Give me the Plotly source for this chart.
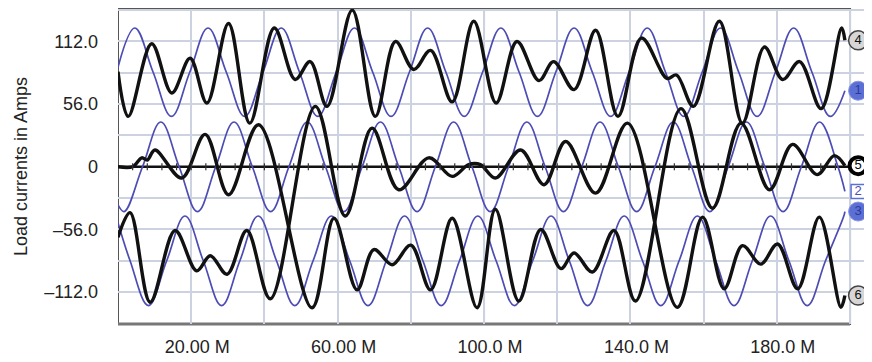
import plotly.graph_objects as go

# ---------------- data ----------------
# time in M (ms), currents in Amps
x_ticks = [20, 60, 100, 140, 180]
x_tick_text = ["20.00 M", "60.00 M", "100.0 M", "140.0 M", "180.0 M"]
y_ticks = [-112, -56, 0, 56, 112]
y_tick_text = ["\u2013112.0", "\u201356.0", "0", "56.0", "112.0"]

# blue supply currents (1, 2, 3): peaks, mid crossings, troughs
blue1_t = [0, 4.6, 9.6, 14.6, 19.6, 24.6, 29.6, 34.6, 39.6, 44.6, 49.6, 54.6, 59.6, 64.6,
           69.6, 74.6, 79.6, 84.6, 89.6, 94.6, 99.6, 104.6, 109.6, 114.6, 119.6, 124.6,
           129.6, 134.6, 139.6, 144.6, 149.6, 154.6, 159.6, 164.6, 169.6, 174.6, 179.6,
           184.6, 189.6, 194.6, 198.6]
blue1_v = [89, 124, 84.5, 45, 84.5, 124, 84.5, 45, 84.5, 124, 84.5, 45, 84.5, 124,
           84.5, 45, 84.5, 124, 84.5, 45, 84.5, 124, 84.5, 45, 84.5, 124,
           84.5, 45, 84.5, 124, 84.5, 45, 84.5, 124, 84.5, 45, 84.5,
           124, 84.5, 45, 68]

blue2_t = [0, 1.7, 6.7, 11.7, 16.7, 21.7, 26.7, 31.7, 36.7, 41.7, 46.7, 51.7, 56.7, 61.7,
           66.7, 71.7, 76.7, 81.7, 86.7, 91.7, 96.7, 101.7, 106.7, 111.7, 116.7, 121.7,
           126.7, 131.7, 136.7, 141.7, 146.7, 151.7, 156.7, 161.7, 166.7, 171.7, 176.7,
           181.7, 186.7, 191.7, 196.7, 198.6]
blue2_v = [-34, -40, 0, 40, 0, -40, 0, 40, 0, -40, 0, 40, 0, -40,
           0, 40, 0, -40, 0, 40, 0, -40, 0, 40, 0, -40,
           0, 40, 0, -40, 0, 40, 0, -40, 0, 40, 0,
           -40, 0, 40, 0, -22]

blue3_t = [0, 3.3, 8.3, 13.3, 18.3, 23.3, 28.3, 33.3, 38.3, 43.3, 48.3, 53.3, 58.3, 63.3,
           68.3, 73.3, 78.3, 83.3, 88.3, 93.3, 98.3, 103.3, 108.3, 113.3, 118.3, 123.3,
           128.3, 133.3, 138.3, 143.3, 148.3, 153.3, 158.3, 163.3, 168.3, 173.3, 178.3,
           183.3, 188.3, 193.3, 198.3, 198.6]
blue3_v = [-50, -84, -124, -84, -44, -84, -124, -84, -44, -84, -124, -84, -44, -84,
           -124, -84, -44, -84, -124, -84, -44, -84, -124, -84, -44, -84,
           -124, -84, -44, -84, -124, -84, -44, -84, -124, -84, -44,
           -84, -124, -84, -44, -40]

# black load currents (4, 5, 6): turning points
black4_t = [0, 2.8, 9.2, 14.7, 19.7, 24.3, 30.2, 36.0, 42.7, 48.4, 52.5, 57.1, 64.0, 70.3,
            75.8, 80.8, 85.4, 91.3, 97.2, 103.3, 109.0, 115.0, 119.0, 124.6, 130.5, 136.6,
            143.0, 150.0, 152.6, 157.2, 164.3, 170.6, 176.6, 181.6, 186.2, 192.1, 197.7, 198.6]
black4_v = [85, 45, 110, 66, 97, 57, 128, 39, 124, 78, 94, 54, 140, 45,
            112, 87, 104, 58, 130, 57, 112, 77, 94, 69, 122, 45,
            115, 79, 82, 54, 130, 39, 107, 78, 94, 52, 124, 113]

black5_t = [0, 4.0, 6.5, 8.0, 10.1, 17.4, 23.8, 30.2, 38.4, 53.0, 59.0, 65.3, 69.9, 74.9,
            80.0, 85.4, 91.3, 98.1, 103.1, 109.5, 115.5, 121.0, 124.6, 129.6, 135.5, 141.4,
            153.8, 162.4, 170.2, 178.0, 184.3, 191.0, 195.7, 198.6]
black5_v = [0, 0, 8, 6, 15, -10, 29, -25, 37.5, -126, -46, -110, -74, -87.5,
            -70, -110, -46, -126, -38, -120, -56, -91, -77, -94, -57, -120,
            52, -37, 39, -20.5, 20, -7, 10, 1]

black6_t = [0, 3.3, 8.8, 15.6, 21.5, 25.2, 29.8, 35.2, 41.6, 53.9, 62.1, 69.4, 76.7, 84.9,
            91.3, 95.8, 99.0, 103.1, 110.0, 116.4, 122.3, 130.5, 139.2, 152.8, 159.7, 165.6,
            170.6, 175.6, 180.2, 185.7, 191.6, 197.5, 198.6]
black6_v = [-63, -41, -121, -57, -93, -79.5, -96, -57, -118, 54, -44, 34.5, -20.5, 8,
            -8.6, 2, 2, -10, 15, -16, 22.6, -23.5, 39, -125.6, -45, -109,
            -70.5, -87, -69, -109, -45, -125.6, -115]

marker_labels = ["4", "1", "5", "2", "3", "6"]

# ---------------- style ----------------
X_MIN, X_MAX = 0, 200          # data window (framed)
X_VIEW = 206                   # axis extends to the figure edge for the channel markers
Y_MIN, Y_MAX = -140.5, 141
CENTER_T = 100
ZERO_TICK_STEP = 4
MARK_OFFSET = 2.2
BLUE = "#4c4cb4"
BLACK = "#111111"
GRID = "#cdd2e0"
FONT = "Liberation Sans, Arial, Helvetica, sans-serif"
PAGE_INSET = 8                 # default page body margin of the html page

fig = go.Figure()

for t, v in [(blue1_t, blue1_v), (blue2_t, blue2_v), (blue3_t, blue3_v)]:
    fig.add_trace(go.Scatter(x=t, y=v, mode="lines",
                             line=dict(color=BLUE, width=1.7, shape="spline", smoothing=1.1),
                             hoverinfo="skip", showlegend=False))

for t, v in [(black4_t, black4_v), (black5_t, black5_v), (black6_t, black6_v)]:
    fig.add_trace(go.Scatter(x=t, y=v, mode="lines",
                             line=dict(color=BLACK, width=3.4, shape="spline", smoothing=1.0),
                             hoverinfo="skip", showlegend=False))

# small tick marks on the zero line
zt = list(range(X_MIN + ZERO_TICK_STEP, X_MAX, ZERO_TICK_STEP))
fig.add_trace(go.Scatter(x=zt, y=[0] * len(zt), mode="markers",
                         marker=dict(symbol="line-ns", size=5, line=dict(color="#333", width=1.2)),
                         hoverinfo="skip", showlegend=False))

# end-of-trace channel markers
ends = {
    "4": black4_v[-1], "1": blue1_v[-1], "5": black5_v[-1],
    "2": blue2_v[-1], "3": blue3_v[-1], "6": black6_v[-1],
}
mx = X_MAX + MARK_OFFSET
styles = {
    "4": dict(fill="#d6d6d6", edge="#444444", ew=1.5, txt="#111111", size=19, sym="circle"),
    "6": dict(fill="#d6d6d6", edge="#444444", ew=1.5, txt="#111111", size=19, sym="circle"),
    "1": dict(fill="#5c6fd4", edge="#8a98e4", ew=1, txt="#2a3a9a", size=19, sym="circle"),
    "3": dict(fill="#5c6fd4", edge="#8a98e4", ew=1, txt="#2a3a9a", size=19, sym="circle"),
    "5": dict(fill="#ffffff", edge="#000000", ew=4, txt="#000000", size=17, sym="circle"),
    "2": dict(fill="#ffffff", edge="#5c6fd4", ew=1.5, txt="#4c4cb4", size=14, sym="square"),
}
for lab in marker_labels:
    s = styles[lab]
    fig.add_trace(go.Scatter(x=[mx], y=[ends[lab]], mode="markers+text", text=[lab],
                             textposition="middle center",
                             textfont=dict(family=FONT, size=13, color=s["txt"]),
                             marker=dict(symbol=s["sym"], size=s["size"], color=s["fill"],
                                         line=dict(color=s["edge"], width=s["ew"])),
                             cliponaxis=False, hoverinfo="skip", showlegend=False))

# mask grid beyond the framed window, then frame, zero line, centre line
fig.add_shape(type="rect", x0=X_MAX, x1=X_VIEW, y0=0, y1=1, xref="x", yref="paper",
              fillcolor="white", line=dict(width=0), layer="between")
fig.add_shape(type="line", x0=X_MIN, x1=X_MAX, y0=0, y1=0, xref="x", yref="y",
              line=dict(color="#111111", width=2.5), layer="between")
fig.add_shape(type="line", x0=CENTER_T, x1=CENTER_T, y0=0, y1=1, xref="x", yref="paper",
              line=dict(color="#333333", width=2), layer="between")
fig.add_shape(type="rect", x0=X_MIN, x1=X_MAX, y0=0, y1=1, xref="x", yref="paper",
              line=dict(color="#555555", width=2), layer="between")
fig.add_shape(type="line", x0=X_MIN, x1=X_MAX, y0=0, y1=0, xref="x", yref="paper",
              line=dict(color="#777777", width=3), layer="between")

fig.update_layout(
    width=872 - PAGE_INSET, height=362 - PAGE_INSET,
    margin=dict(l=118 - PAGE_INSET, r=0, t=9 - PAGE_INSET, b=38),
    paper_bgcolor="white", plot_bgcolor="white",
    font=dict(family=FONT, size=18, color="#222222"),
)
fig.update_xaxes(range=[X_MIN, X_VIEW], tickvals=x_ticks, ticktext=x_tick_text,
                 showgrid=True, gridcolor=GRID, gridwidth=1.5,
                 minor=dict(dtick=20, tick0=0, showgrid=True, gridcolor=GRID, gridwidth=1.5),
                 zeroline=False, showline=False, automargin=False,
                 ticks="", ticklabelstandoff=10, ticklabelshift=6,
                 tickfont=dict(size=18))
fig.update_yaxes(range=[Y_MIN, Y_MAX], tickvals=y_ticks, ticktext=y_tick_text,
                 showgrid=True, gridcolor=GRID, gridwidth=1.5,
                 minor=dict(dtick=28, tick0=0, showgrid=True, gridcolor=GRID, gridwidth=1.5),
                 zeroline=False, showline=False, automargin=False,
                 ticks="", ticklabelstandoff=19, tickfont=dict(size=18),
                 title=dict(text="Load currents in Amps", standoff=11, font=dict(size=18)))

fig.write_html("out.html")
